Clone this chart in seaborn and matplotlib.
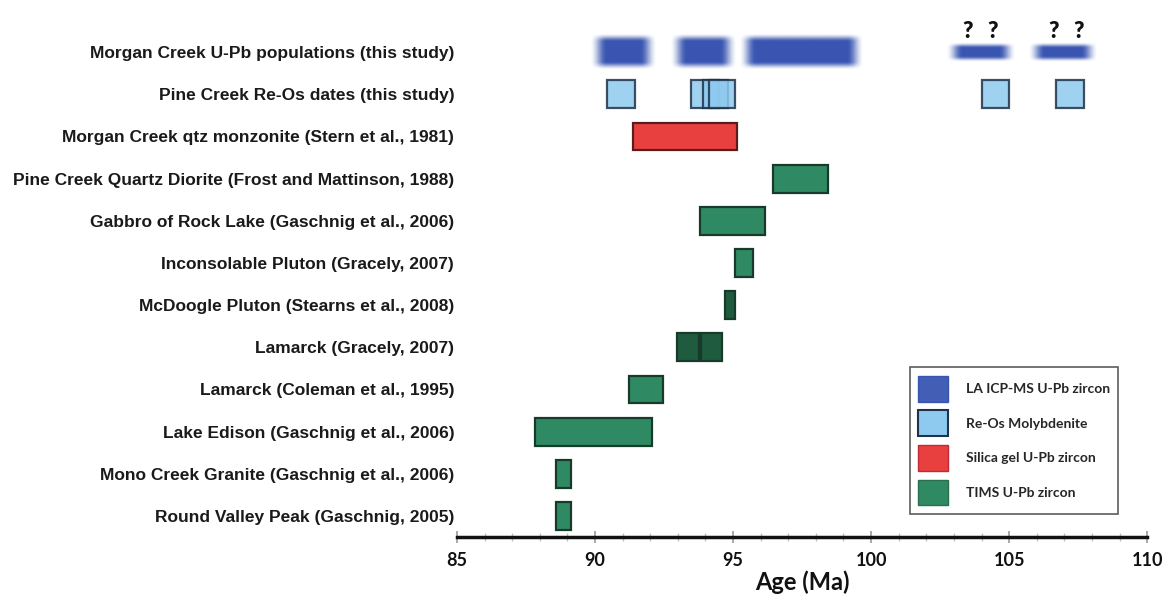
import numpy as np
import pandas as pd
import matplotlib
matplotlib.use("Agg")
import matplotlib.pyplot as plt
import seaborn as sns
from matplotlib.patches import Patch
from matplotlib.colors import to_rgb

sns.set_theme(style="white")
plt.rcParams['font.family'] = ['Liberation Sans', 'DejaVu Sans']

# ---------------- data ----------------
rows = [
    "Morgan Creek U-Pb populations (this study)",
    "Pine Creek Re-Os dates (this study)",
    "Morgan Creek qtz monzonite (Stern et al., 1981)",
    "Pine Creek Quartz Diorite (Frost and Mattinson, 1988)",
    "Gabbro of Rock Lake (Gaschnig et al., 2006)",
    "Inconsolable Pluton (Gracely, 2007)",
    "McDoogle Pluton (Stearns et al., 2008)",
    "Lamarck (Gracely, 2007)",
    "Lamarck (Coleman et al., 1995)",
    "Lake Edison (Gaschnig et al., 2006)",
    "Mono Creek Granite (Gaschnig et al., 2006)",
    "Round Valley Peak (Gaschnig, 2005)",
]

# LA ICP-MS U-Pb populations (row 0): start, end, certain?
upb_start = [90.1, 93.0, 95.5, 103.0, 106.0]
upb_end = [91.9, 94.8, 99.4, 104.9, 107.9]
upb_certain = [True, True, True, False, False]

# Re-Os molybdenite dates (row 1)
reos_start = [90.45, 93.48, 93.91, 94.13, 104.0, 106.7]
reos_end = [91.45, 94.49, 94.82, 95.07, 105.0, 107.7]

# Silica gel U-Pb (row 2)
silica_start = [91.38]
silica_end = [95.14]

# TIMS U-Pb zircon (rows 3..11)
tims_row = [3, 4, 5, 6, 7, 7, 8, 9, 10, 11]
tims_start = [96.45, 93.8, 95.07, 94.7, 92.97, 93.84, 91.23, 87.83, 88.59, 88.59]
tims_end = [98.45, 96.16, 95.72, 95.07, 93.77, 94.6, 92.46, 92.07, 89.13, 89.13]
tims_dark = [False, False, False, True, True, True, False, False, False, False]

qmarks = [103.5, 104.4, 106.6, 107.5]

xticks = [85, 90, 95, 100, 105, 110]

legend_labels = ["LA ICP-MS U-Pb zircon", "Re-Os Molybdenite",
                 "Silica gel U-Pb zircon", "TIMS U-Pb zircon"]

# ---------------- style ----------------
BLUE = "#2e4cad"
LBLUE = "#8ec9ef"
RED = "#e8403f"
GREEN = "#2f8a63"
DGREEN = "#1f5c3f"
H = 0.66

fig = plt.figure(figsize=(11.67, 6.14), dpi=100)
ax = fig.add_axes([0.3916, 0.1254, 0.983 - 0.3916, 0.9837 - 0.1254])


def ramp(n, frac):
    t = np.linspace(0, 1, n)
    a = np.minimum(t, 1 - t) / frac
    a = np.clip(a, 0, 1)
    return a * a * (3 - 2 * a)


# blurred blue bars (soft edges via alpha gradient image)
rgb = to_rgb(BLUE)
for s, e, c in zip(upb_start, upb_end, upb_certain):
    h = H if c else 0.32
    pad = 0.3
    vpad = 0.1 if c else 0.07
    x0, x1 = s - pad, e + pad
    y0, y1 = 0 - h / 2 - vpad, 0 + h / 2 + vpad
    nx, ny = 300, 60
    ax_ = ramp(nx, 2 * pad / (x1 - x0))
    ay_ = ramp(ny, 2 * vpad / (y1 - y0))
    img = np.zeros((ny, nx, 4))
    img[..., 0], img[..., 1], img[..., 2] = rgb
    img[..., 3] = np.outer(ay_, ax_) * 0.95
    ax.imshow(img, extent=(x0, x1, y1, y0), aspect="auto",
              interpolation="bilinear", zorder=2)

# Re-Os boxes
for s, e in zip(reos_start, reos_end):
    ax.barh(1, e - s, left=s, height=H, color=LBLUE, alpha=0.85,
            edgecolor="#1e3348", linewidth=1.6)

# silica gel
for s, e in zip(silica_start, silica_end):
    ax.barh(2, e - s, left=s, height=H, color=RED, edgecolor="#5a1c1c",
            linewidth=1.6)

# TIMS
for r, s, e, d in zip(tims_row, tims_start, tims_end, tims_dark):
    ax.barh(r, e - s, left=s, height=H, color=DGREEN if d else GREEN,
            edgecolor="#173a2a", linewidth=1.6)

for q in qmarks:
    ax.text(q, -0.5, "?", ha="center", va="center", fontsize=16,
            fontweight="heavy", family=["Lato", "DejaVu Sans"], color="#111111")

ax.set_xlim(85, 110)
ax.set_ylim(11.5, -1.0)
ax.set_yticks(range(len(rows)))
ax.set_yticklabels(rows, fontsize=12.5, fontweight="bold", color="#1a1a1a")
ax.tick_params(axis="y", length=0, pad=2)

ax.set_xticks(xticks)
ax.set_xticklabels([str(t) for t in xticks], fontsize=13, fontweight="bold",
                   family=["Lato", "DejaVu Sans"], color="#111111")
ax.set_xticks(np.arange(85, 111, 1), minor=True)
ax.tick_params(axis="x", which="major", direction="inout", length=9,
               color="#9a9a9a", width=1.2, pad=6, bottom=True)
ax.tick_params(axis="x", which="minor", direction="inout", length=6,
               color="#c0c0c0", width=1.0, bottom=True)
ax.set_xlabel("Age (Ma)", fontsize=17, fontweight="bold",
              family=["Lato", "DejaVu Sans"], labelpad=1, color="#111111")

sns.despine(ax=ax, left=True, top=True, right=True)
ax.spines["bottom"].set_linewidth(2.5)
ax.spines["bottom"].set_color("#111111")
ax.grid(False)

handles = [
    Patch(facecolor=BLUE, edgecolor=BLUE, alpha=0.9),
    Patch(facecolor=LBLUE, edgecolor="#1e3348", linewidth=1.5),
    Patch(facecolor=RED, edgecolor="#c02a35"),
    Patch(facecolor=GREEN, edgecolor="#2a7050"),
]
leg = ax.legend(handles, legend_labels, loc="lower right",
                bbox_to_anchor=(0.958, 0.044), borderaxespad=0,
                frameon=True, fancybox=False,
                edgecolor="#333333", handlelength=2.1, handleheight=2.5,
                handletextpad=1.3, labelspacing=0.62, borderpad=0.6,
                prop={"family": ["Lato", "DejaVu Sans"], "weight": "bold",
                      "size": 10})
leg.get_frame().set_linewidth(1.2)

fig.savefig("out.png", dpi=100, facecolor="white")
